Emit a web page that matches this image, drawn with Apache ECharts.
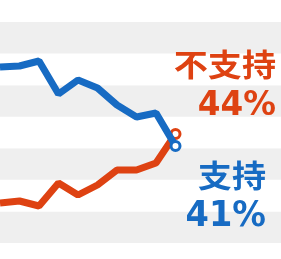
<!DOCTYPE html>
<html>
<head>
<meta charset="utf-8">
<script src="https://cdn.jsdelivr.net/npm/echarts@6/dist/echarts.min.js"></script>
<style>html,body{margin:0;padding:0;background:#fff}#c{width:281px;height:259px}</style>
</head>
<body>
<div id="c"></div>
<script>
const periods = [0, 1, 2, 3, 4, 5, 6, 7, 8, 9];
const support = [60.75, 61, 62.25, 54, 57.5, 55.5, 51.25, 48.25, 49.25, 41];
const oppose = [26.75, 27.25, 26, 31.75, 28.75, 31.25, 35, 35, 36.75, 44];
const supportLabel = '支持';
const opposeLabel = '不支持';
const supportPct = '41%';
const opposePct = '44%';

const BLUE = '#176bc3';
const RED = '#de4212';

const chart = echarts.init(document.getElementById('c'), null, {renderer: 'canvas'});
const last = periods.length - 1;
function mk(vals) { return periods.map((p, i) => [p, vals[i]]); }
function lineSeries(name, vals, color, z) {
  return {
    name, type: 'line', data: mk(vals), xAxisIndex: 0, yAxisIndex: 0,
    showSymbol: true,
    symbol: (v, params) => params.dataIndex === last ? 'circle' : 'none',
    symbolSize: 9,
    itemStyle: {color: '#fff', borderColor: color, borderWidth: 3},
    lineStyle: {color, width: 7},
    z, animation: false, silent: true
  };
}
function label(text, x, y, color, font, sx) {
  return {type: 'text', x, y, scaleX: sx, z: 100,
    style: {text, fill: color, font, align: 'right', verticalAlign: 'middle'}};
}
chart.setOption({
  animation: false,
  grid: {left: 0, right: 0, top: 22, bottom: 16},
  xAxis: {type: 'value', min: 0, max: 14.41, show: false},
  yAxis: [
    {type: 'value', min: 16.75, max: 72, show: false, splitLine: {show: false}},
    {type: 'value', min: 0, max: 7, interval: 1, axisLine: {show: false}, axisTick: {show: false},
     axisLabel: {show: false}, splitLine: {show: false},
     splitArea: {show: true, areaStyle: {color: ['#efefef', '#ffffff']}}}
  ],
  series: [
    lineSeries('不支持', oppose, RED, 2),
    lineSeries('支持', support, BLUE, 3)
  ],
  graphic: [
    label(opposeLabel, 276, 64, RED, 'bold 31px "Noto Sans CJK JP"', 1.1),
    label(opposePct, 276, 106, RED, 'bold 34px "DejaVu Sans"', 0.96),
    label(supportLabel, 266, 175, BLUE, 'bold 31px "Noto Sans CJK JP"', 1.1),
    label(supportPct, 266, 217, BLUE, 'bold 35px "DejaVu Sans"', 0.96)
  ]
});
</script>
</body>
</html>
